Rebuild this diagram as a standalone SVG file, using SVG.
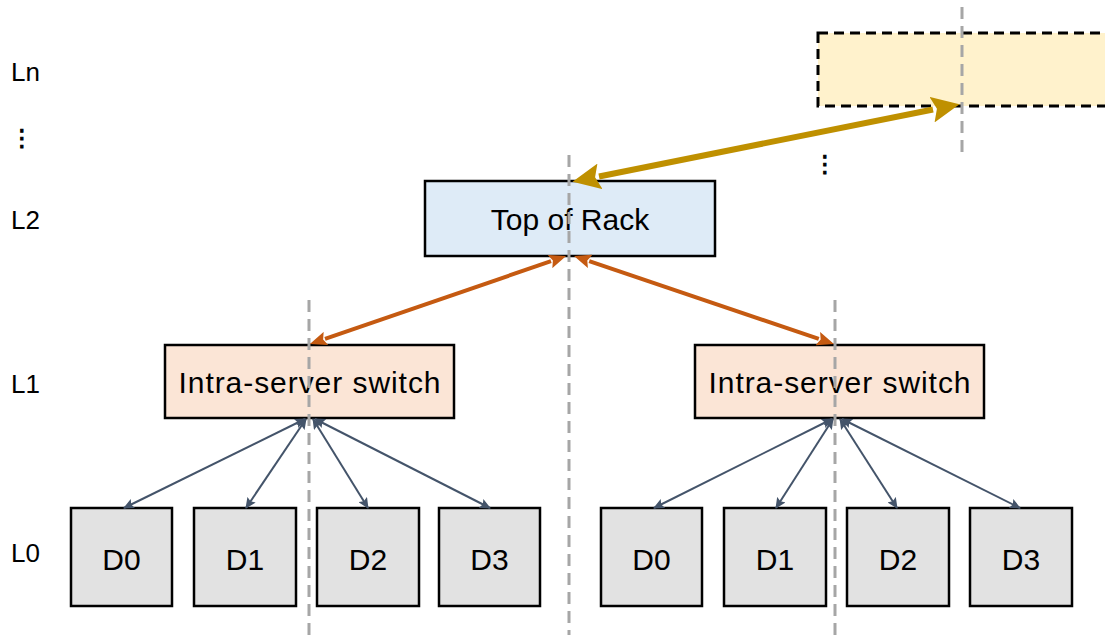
<svg xmlns="http://www.w3.org/2000/svg" width="1105" height="635" viewBox="0 0 1105 635">
<style>
.lbl{font-family:"Liberation Sans",Arial,sans-serif;font-size:26px;fill:#000}
.txt{font-family:"Liberation Sans",Arial,sans-serif;font-size:30px;fill:#000;text-anchor:middle}
.dots{font-family:"DejaVu Sans",sans-serif;font-size:23px;fill:#000;stroke:#000;stroke-width:1;text-anchor:middle}
.box{stroke:#000;stroke-width:2.5}
.dev{fill:#E2E2E2;stroke:#000;stroke-width:2.5}
.sw{fill:#FBE5D6;stroke:#000;stroke-width:2.5}
.guide{stroke:#A6A6A6;stroke-width:3;stroke-dasharray:12 7;fill:none}
.gold{stroke:#BF9000;stroke-width:6;fill:none}
.orange{stroke:#C55A11;stroke-width:4;fill:none}
.blue{stroke:#44546A;stroke-width:2;fill:none}
</style>
<defs>
<marker id="mGold" markerUnits="userSpaceOnUse" viewBox="0 -13 28 26" markerWidth="28" markerHeight="26" refX="1" refY="0" orient="auto-start-reverse">
<path d="M0,-13 L28,0 L0,13 L5,0 z" fill="#BF9000"/>
</marker>
<marker id="mOrange" markerUnits="userSpaceOnUse" viewBox="0 -7 17 14" markerWidth="17" markerHeight="14" refX="1" refY="0" orient="auto-start-reverse">
<path d="M0,-7 L17,0 L0,7 L3,0 z" fill="#C55A11"/>
</marker>
<marker id="mBlue" markerUnits="userSpaceOnUse" viewBox="0 -5 11 10" markerWidth="11" markerHeight="10" refX="10" refY="0" orient="auto-start-reverse">
<path d="M0,-5 L11,0 L0,5 L2,0 z" fill="#44546A"/>
</marker>
</defs>

<g id="levels">
<text class="lbl" x="11" y="81">Ln</text>
<text class="dots" x="22" y="146">⋮</text>
<text class="lbl" x="11" y="229">L2</text>
<text class="lbl" x="11" y="393">L1</text>
<text class="lbl" x="11" y="562">L0</text>
</g>

<g id="ln-node">
<rect x="818" y="33" width="300" height="73" fill="#FFF2CC" stroke="#000" stroke-width="3" stroke-dasharray="10 6"/>
</g>
<text class="dots" x="825" y="172">⋮</text>

<g id="tor">
<rect class="box" x="425" y="181" width="290" height="75" fill="#DEEBF7"/>
<text class="txt" x="570" y="230">Top of Rack</text>
</g>

<g id="switch-left">
<rect class="sw" x="165" y="345" width="289" height="73"/>
<text class="txt" x="309.5" y="393" textLength="262" lengthAdjust="spacing">Intra-server switch</text>
</g>
<g id="switch-right">
<rect class="sw" x="695" y="345" width="289" height="73"/>
<text class="txt" x="839.5" y="393" textLength="262" lengthAdjust="spacing">Intra-server switch</text>
</g>

<g id="left-D0"><rect class="dev" x="71" y="508" width="101" height="98"/><text class="txt" x="121.5" y="570">D0</text></g>
<g id="left-D1"><rect class="dev" x="194" y="508" width="102" height="98"/><text class="txt" x="245" y="570">D1</text></g>
<g id="left-D2"><rect class="dev" x="317" y="508" width="102" height="98"/><text class="txt" x="368" y="570">D2</text></g>
<g id="left-D3"><rect class="dev" x="439" y="508" width="101" height="98"/><text class="txt" x="489.5" y="570">D3</text></g>
<g id="right-D0"><rect class="dev" x="601" y="508" width="101" height="98"/><text class="txt" x="651.5" y="570">D0</text></g>
<g id="right-D1"><rect class="dev" x="724" y="508" width="102" height="98"/><text class="txt" x="775" y="570">D1</text></g>
<g id="right-D2"><rect class="dev" x="847" y="508" width="102" height="98"/><text class="txt" x="898" y="570">D2</text></g>
<g id="right-D3"><rect class="dev" x="970" y="508" width="102" height="98"/><text class="txt" x="1021" y="570">D3</text></g>

<g id="guides">
<line class="guide" x1="962" y1="7" x2="962" y2="155"/>
<line class="guide" x1="569" y1="155" x2="569" y2="635"/>
<line class="guide" x1="309" y1="300" x2="309" y2="635"/>
<line class="guide" x1="835" y1="300" x2="835" y2="635"/>
</g>

<g id="connectors">
<line class="gold" x1="599" y1="176.5" x2="933" y2="109.5" marker-start="url(#mGold)" marker-end="url(#mGold)"/>
<line class="orange" x1="551" y1="261.2" x2="325" y2="338.8" marker-start="url(#mOrange)" marker-end="url(#mOrange)"/>
<line class="orange" x1="589.2" y1="261.1" x2="818.8" y2="338.9" marker-start="url(#mOrange)" marker-end="url(#mOrange)"/>
<line class="blue" x1="305" y1="419" x2="124" y2="508" marker-start="url(#mBlue)" marker-end="url(#mBlue)"/>
<line class="blue" x1="306" y1="419" x2="246" y2="508" marker-start="url(#mBlue)" marker-end="url(#mBlue)"/>
<line class="blue" x1="313" y1="419" x2="368" y2="508" marker-start="url(#mBlue)" marker-end="url(#mBlue)"/>
<line class="blue" x1="315" y1="419" x2="490" y2="508" marker-start="url(#mBlue)" marker-end="url(#mBlue)"/>
<line class="blue" x1="832" y1="419" x2="654" y2="508" marker-start="url(#mBlue)" marker-end="url(#mBlue)"/>
<line class="blue" x1="833" y1="419" x2="776" y2="508" marker-start="url(#mBlue)" marker-end="url(#mBlue)"/>
<line class="blue" x1="840" y1="419" x2="897" y2="508" marker-start="url(#mBlue)" marker-end="url(#mBlue)"/>
<line class="blue" x1="842" y1="419" x2="1020" y2="508" marker-start="url(#mBlue)" marker-end="url(#mBlue)"/>
</g>
</svg>
